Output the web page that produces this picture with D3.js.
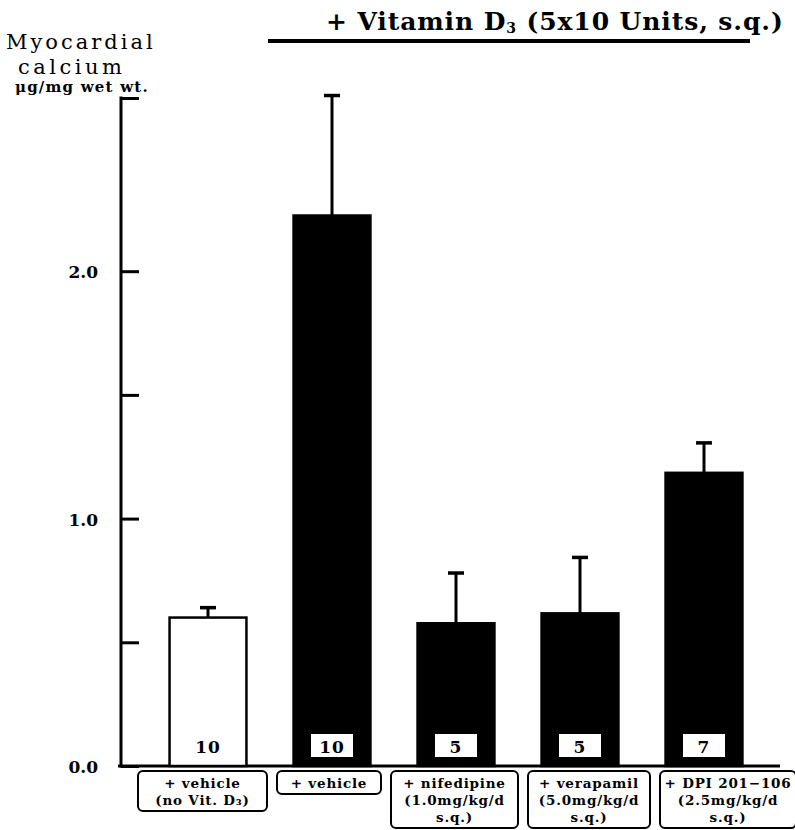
<!DOCTYPE html>
<html>
<head>
<meta charset="utf-8">
<script src="https://cdnjs.cloudflare.com/ajax/libs/d3/7.8.5/d3.min.js"></script>
<style>
  body { margin: 0; background: #fff; }
  text { font-family: "DejaVu Serif", serif; fill: #000; }
</style>
</head>
<body>
<div id="chart"></div>
<script>
// values (myocardial calcium, ug/mg wet wt.)
var groups = ['vehicle_noD3', 'vehicle', 'nifedipine', 'verapamil', 'dpi'];
var means  = [0.60, 2.225, 0.577, 0.617, 1.185];
var errTop = [0.64, 2.71, 0.78, 0.843, 1.306];
var nums   = ['10', '10', '5', '5', '7'];
var filled = [false, true, true, true, true];
var labelLines = [
  ['+ vehicle', '(no Vit. D\u2083)'],
  ['+ vehicle'],
  ['+ nifedipine', '(1.0mg/kg/d', 's.q.)'],
  ['+ verapamil', '(5.0mg/kg/d', 's.q.)'],
  ['+ DPI 201\u2212106', '(2.5mg/kg/d', 's.q.)']
];
var tickVals = [0, 0.5, 1.0, 1.5, 2.0, 2.7];
var tickLabels = { 0: '0.0', 1: '1.0', 2: '2.0' };

// layout of the label boxes under the axis
var boxW = [129, 104, 127, 122, 136];

var W = 795, H = 830;
var svg = d3.select('#chart').append('svg')
  .attr('width', W)
  .attr('height', H);

var x = d3.scaleBand()
  .domain(groups)
  .range([146, 766])
  .paddingInner(0.38)
  .paddingOuter(0.19);

var y = d3.scaleLinear()
  .domain([0, 2.7])
  .range([766, 98]);

var axisX = 121;

// y axis with inward ticks
var yAxis = d3.axisRight(y)
  .tickValues(tickVals)
  .tickSize(18)
  .tickFormat('');
var gy = svg.append('g')
  .attr('transform', 'translate(' + axisX + ',0)')
  .call(yAxis);
gy.select('.domain').remove();
gy.selectAll('.tick line').attr('stroke', '#000').attr('stroke-width', 3);
svg.append('line')
  .attr('x1', axisX).attr('x2', axisX)
  .attr('y1', y(2.7) - 1.5).attr('y2', y(0) + 1.5)
  .attr('stroke', '#000').attr('stroke-width', 3);

// tick labels
svg.selectAll('.ylab')
  .data(tickVals.filter(function(v) { return tickLabels[v]; }))
  .enter().append('text')
  .attr('class', 'ylab')
  .attr('x', 98)
  .attr('y', function(d) { return y(d) + 7; })
  .attr('text-anchor', 'end')
  .attr('font-size', 17)
  .attr('font-weight', 'bold')
  .text(function(d) { return tickLabels[d]; });

// baseline
svg.append('line')
  .attr('x1', 118).attr('x2', 780)
  .attr('y1', y(0)).attr('y2', y(0))
  .attr('stroke', '#000').attr('stroke-width', 3);

// error bars (upper only)
var err = svg.selectAll('.err')
  .data(groups)
  .enter().append('g')
  .attr('class', 'err');
err.append('line')
  .attr('x1', function(d) { return x(d) + x.bandwidth() / 2; })
  .attr('x2', function(d) { return x(d) + x.bandwidth() / 2; })
  .attr('y1', function(d, i) { return y(means[i]); })
  .attr('y2', function(d, i) { return y(errTop[i]); })
  .attr('stroke', '#000').attr('stroke-width', 3);
err.append('line')
  .attr('x1', function(d) { return x(d) + x.bandwidth() / 2 - 8; })
  .attr('x2', function(d) { return x(d) + x.bandwidth() / 2 + 8; })
  .attr('y1', function(d, i) { return y(errTop[i]); })
  .attr('y2', function(d, i) { return y(errTop[i]); })
  .attr('stroke', '#000').attr('stroke-width', 3.5);

// bars
svg.selectAll('.bar')
  .data(groups)
  .enter().append('rect')
  .attr('class', 'bar')
  .attr('x', function(d) { return x(d); })
  .attr('y', function(d, i) { return y(means[i]); })
  .attr('width', x.bandwidth())
  .attr('height', function(d, i) { return y(0) - y(means[i]); })
  .attr('fill', function(d, i) { return filled[i] ? '#000' : '#fff'; })
  .attr('stroke', '#000')
  .attr('stroke-width', 2.5);

// n boxes
var nb = svg.selectAll('.nbox')
  .data(groups)
  .enter().append('g')
  .attr('class', 'nbox')
  .attr('transform', function(d) { return 'translate(' + (x(d) + x.bandwidth() / 2) + ',0)'; });
nb.filter(function(d, i) { return filled[i]; })
  .append('rect')
  .attr('x', -21).attr('y', 734)
  .attr('width', 42).attr('height', 23)
  .attr('fill', '#fff');
nb.append('text')
  .attr('text-anchor', 'middle')
  .attr('y', 753)
  .attr('font-size', 17)
  .attr('font-weight', 'bold')
  .attr('letter-spacing', 1)
  .text(function(d, i) { return nums[i]; });

// category label boxes, laid out one after another
var bx = 138, gap = 10, lineH = 17;
groups.forEach(function(g, i) {
  var lines = labelLines[i];
  var w = boxW[i];
  var h = lines.length * lineH + 6;
  var gg = svg.append('g')
    .attr('transform', 'translate(' + (bx + w / 2) + ',0)');
  gg.append('rect')
    .attr('x', -w / 2).attr('y', 771)
    .attr('width', w).attr('height', h)
    .attr('rx', 5)
    .attr('fill', '#fff')
    .attr('stroke', '#000')
    .attr('stroke-width', 2);
  var t = gg.append('text')
    .attr('font-size', 13.5)
    .attr('font-weight', 'bold')
    .attr('letter-spacing', 0.8)
    .attr('text-anchor', 'middle');
  lines.forEach(function(s, j) {
    t.append('tspan').attr('x', 0).attr('y', 788 + j * lineH).text(s);
  });
  bx += w + gap;
});

// title with underline
var title = svg.append('text')
  .attr('x', 326).attr('y', 30)
  .attr('font-size', 25)
  .attr('font-weight', 'bold')
  .attr('letter-spacing', 0.9);
title.append('tspan').text('+ Vitamin D');
title.append('tspan').attr('font-size', 14).attr('dy', 3).text('3');
title.append('tspan').attr('dy', -3).text(' (5x10 Units, s.q.)');
svg.append('line')
  .attr('x1', 268).attr('x2', 750)
  .attr('y1', 41).attr('y2', 41)
  .attr('stroke', '#000').attr('stroke-width', 4);

// y axis title
svg.append('text').attr('x', 6).attr('y', 49)
  .attr('font-size', 21).attr('letter-spacing', 3).text('Myocardial');
svg.append('text').attr('x', 18).attr('y', 74)
  .attr('font-size', 21).attr('letter-spacing', 3.5).text('calcium');
svg.append('text').attr('x', 15).attr('y', 92)
  .attr('font-size', 15).attr('font-weight', 'bold').attr('letter-spacing', 1.2)
  .text('\u03bcg/mg wet wt.');
</script>
</body>
</html>
